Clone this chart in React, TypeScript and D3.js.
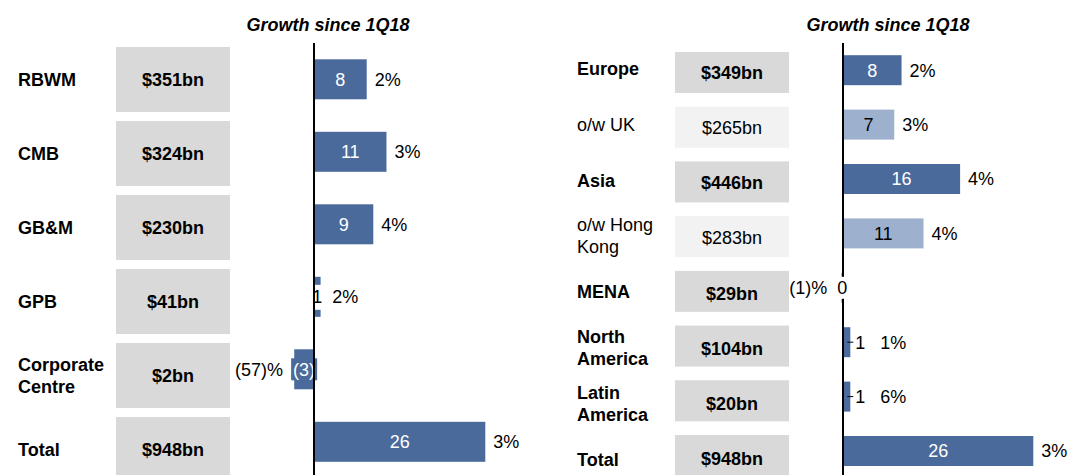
import React from 'react';
import * as d3 from 'd3';

// ---------- data ----------
const leftCategories = ['RBWM', 'CMB', 'GB&M', 'GPB', 'Corporate\nCentre', 'Total'];
const leftBalances = ['$351bn', '$324bn', '$230bn', '$41bn', '$2bn', '$948bn'];
const leftGrowth = [8, 11, 9, 1, -3, 26];
const leftGrowthLabels = ['8', '11', '9', '1', '(3)', '26'];
const leftPct = ['2%', '3%', '4%', '2%', '(57)%', '3%'];
const leftSubRow = [false, false, false, false, false, false];

const rightCategories = ['Europe', 'o/w UK', 'Asia', 'o/w Hong\nKong', 'MENA', 'North\nAmerica', 'Latin\nAmerica', 'Total'];
const rightBalances = ['$349bn', '$265bn', '$446bn', '$283bn', '$29bn', '$104bn', '$20bn', '$948bn'];
const rightGrowth = [8, 7, 16, 11, -0.2, 1, 1, 26];
const rightGrowthLabels = ['8', '7', '16', '11', '0', '1', '1', '26'];
const rightPct = ['2%', '3%', '4%', '4%', '(1)%', '1%', '6%', '3%'];
const rightSubRow = [false, true, false, true, false, false, false, false];

const titleText = 'Growth since 1Q18';

// ---------- style ----------
const FONT = '"Liberation Sans", Arial, Helvetica, sans-serif';
const FS = 18;
const DARK = '#4a6a9b';
const LIGHT = '#9db1cf';
const BOX = '#d9d9d9';
const BOX_LIGHT = '#f2f2f2';

type PanelProps = {
  categories: string[];
  balances: string[];
  growth: number[];
  growthLabels: string[];
  pct: string[];
  subRow: boolean[];
  labelX: number;
  boxX: [number, number];
  axisX: number;
  xPerMax: number; // x position of max value
  boxRange: [number, number];
  boxPad: number;
  barRange: [number, number];
  barPad: number;
  labelY: (i: number) => number;
  boxTextY: (i: number) => number;
  titleX: number;
  smallMode: 'inside' | 'leader';
};

function textWidth(s: string) {
  // approx Arial regular widths
  let w = 0;
  for (const c of s) {
    if (c === '(' || c === ')') w += 0.333;
    else w += 0.556;
  }
  return w * FS;
}

function Panel(p: PanelProps) {
  const idx = p.categories.map((_, i) => String(i));
  const xMax = d3.max(p.growth) as number;
  const x = d3.scaleLinear().domain([0, xMax]).range([p.axisX, p.xPerMax]);
  const yBox = d3.scaleBand().domain(idx).range(p.boxRange).paddingInner(p.boxPad).paddingOuter(0);
  const yBar = d3.scaleBand().domain(idx).range(p.barRange).paddingInner(p.barPad).paddingOuter(0);

  return (
    <g>
      <text x={p.titleX} y={25} dy="0.35em" textAnchor="middle" fontWeight="bold" fontStyle="italic" fontSize={FS}>
        {titleText}
      </text>
      {p.categories.map((cat, i) => {
        const lines = cat.split('\n');
        const cy = p.labelY(i);
        const bold = !p.subRow[i];
        return (
          <text key={'l' + i} x={p.labelX} fontWeight={bold ? 'bold' : 'normal'} fontSize={FS}>
            {lines.map((ln, k) => (
              <tspan key={k} x={p.labelX} y={cy + (k - (lines.length - 1) / 2) * 22} dy="0.35em">
                {ln}
              </tspan>
            ))}
          </text>
        );
      })}
      {p.balances.map((b, i) => {
        const y0 = yBox(String(i)) as number;
        return (
          <g key={'b' + i}>
            <rect x={p.boxX[0]} y={y0} width={p.boxX[1] - p.boxX[0]} height={yBox.bandwidth()} fill={p.subRow[i] ? BOX_LIGHT : BOX} />
            <text x={(p.boxX[0] + p.boxX[1]) / 2} y={p.boxTextY(i)} dy="0.35em" textAnchor="middle" fontWeight={p.subRow[i] ? 'normal' : 'bold'} fontSize={FS}>
              {b}
            </text>
          </g>
        );
      })}
      {p.growth.map((v, i) => {
        const y0 = yBar(String(i)) as number;
        const h = yBar.bandwidth();
        const cy = y0 + h / 2;
        const xa = x(Math.min(0, v));
        const xb = x(Math.max(0, v));
        const fill = p.subRow[i] ? LIGHT : DARK;
        const txtFill = p.subRow[i] ? '#000' : '#fff';
        const lbl = p.growthLabels[i];
        const tw = textWidth(lbl);
        const barW = xb - xa;
        const cx = (xa + xb) / 2;
        const fits = barW >= tw + 4;
        let labelEl: React.ReactNode = null;
        let pctX = 0;
        let pctAnchor: 'start' | 'end' = 'start';
        if (fits) {
          labelEl = (
            <text x={cx} y={cy} dy="0.35em" textAnchor="middle" fill={txtFill} fontSize={FS}>{lbl}</text>
          );
          if (v >= 0) pctX = xb + 8;
          else { pctX = xa - 8; pctAnchor = 'end'; }
        } else if (Math.abs(v) < 0.5) {
          const bw = tw + 4;
          labelEl = (
            <g>
              <rect x={cx - bw / 2} y={cy - 11} width={bw} height={22} fill="#fff" />
              <text x={cx} y={cy} dy="0.35em" textAnchor="middle" fill="#000" fontSize={FS}>{lbl}</text>
            </g>
          );
          pctX = cx - bw / 2 - 8; pctAnchor = 'end';
        } else if (v < 0) {
          const bw = tw + 4;
          labelEl = (
            <g>
              <rect x={cx - bw / 2} y={cy - 11} width={bw} height={22} fill={fill} />
              <text x={cx} y={cy} dy="0.35em" textAnchor="middle" fill={txtFill} fontSize={FS}>{lbl}</text>
            </g>
          );
          pctX = cx - bw / 2 - 8; pctAnchor = 'end';
        } else if (p.smallMode === 'inside') {
          const bw = tw + 4;
          labelEl = (
            <g>
              <rect x={cx - bw / 2} y={cy - 12} width={bw} height={25} fill="#fff" />
              <text x={cx} y={cy} dy="0.35em" textAnchor="middle" fill="#000" fontSize={FS}>{lbl}</text>
            </g>
          );
          pctX = cx + bw / 2 + 8;
        } else {
          labelEl = (
            <g>
              <line x1={xb - 3} x2={xb + 3} y1={cy} y2={cy} stroke="#000" strokeWidth={1} />
              <text x={xb + 5} y={cy} dy="0.35em" textAnchor="start" fill="#000" fontSize={FS}>{lbl}</text>
            </g>
          );
          pctX = xb + 30;
        }
        return (
          <g key={'g' + i}>
            <rect x={xa} y={y0} width={Math.max(barW, 0.8)} height={h} fill={fill} />
            {labelEl}
            <text x={pctX} y={cy} dy="0.35em" textAnchor={pctAnchor} fill="#000" fontSize={FS}>{p.pct[i]}</text>
          </g>
        );
      })}
      <line x1={p.axisX} x2={p.axisX} y1={43} y2={475} stroke="#000" strokeWidth={2} />
      {/* re-draw white-background labels that sit over the axis */}
      {p.growth.map((v, i) => {
        if (Math.abs(v) >= 0.5) return null;
        const y0 = yBar(String(i)) as number;
        const cy = y0 + yBar.bandwidth() / 2;
        const lbl = p.growthLabels[i];
        const bw = textWidth(lbl) + 4;
        const cx = (x(Math.min(0, v)) + x(Math.max(0, v))) / 2;
        return (
          <g key={'z' + i}>
            <rect x={cx - bw / 2} y={cy - 11} width={bw} height={22} fill="#fff" />
            <text x={cx} y={cy} dy="0.35em" textAnchor="middle" fill="#000" fontSize={FS}>{lbl}</text>
          </g>
        );
      })}
    </g>
  );
}

export default function App() {
  return (
    <svg
      width={1069}
      height={475}
      style={{ position: 'absolute', left: 0, top: 0, display: 'block', background: '#fff' }}
      fontFamily={FONT}
    >
      <Panel
        categories={leftCategories}
        balances={leftBalances}
        growth={leftGrowth}
        growthLabels={leftGrowthLabels}
        pct={leftPct}
        subRow={leftSubRow}
        labelX={18}
        boxX={[116, 230]}
        axisX={314}
        xPerMax={485.3}
        boxRange={[47, 482]}
        boxPad={9 / 74}
        barRange={[59.3, 461.8]}
        barPad={32.5 / 72.5}
        labelY={(i) => 79.5 + i * 74}
        boxTextY={(i) => 79.5 + i * 74}
        titleX={328}
        smallMode="inside"
      />
      <Panel
        categories={rightCategories}
        balances={rightBalances}
        growth={rightGrowth}
        growthLabels={rightGrowthLabels}
        pct={rightPct}
        subRow={rightSubRow}
        labelX={577}
        boxX={[675, 789]}
        axisX={843}
        xPerMax={1033.3}
        boxRange={[52, 476]}
        boxPad={13.7 / 54.7}
        barRange={[55.2, 466]}
        barPad={24.4 / 54.4}
        labelY={(i) => 68.6 + i * 55.8}
        boxTextY={(i) => 72.5 + i * 55.2}
        titleX={888}
        smallMode="leader"
      />
    </svg>
  );
}
